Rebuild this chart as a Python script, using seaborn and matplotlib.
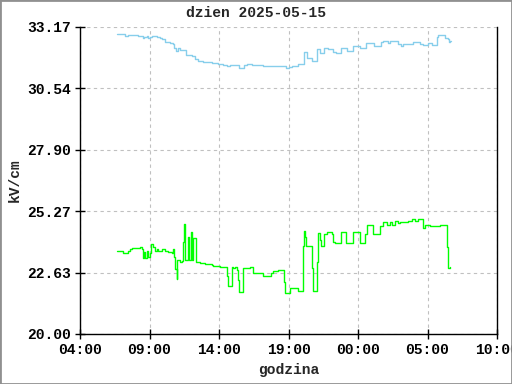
# -*- coding: utf-8 -*-
"""
Dzienny wykres natezenia pola (kV/cm), dwie serie schodkowe.
"""
import pandas as pd
import numpy as np
import matplotlib
matplotlib.use('Agg')
import matplotlib.pyplot as plt
import matplotlib.dates as mdates
from matplotlib.patches import Rectangle
import seaborn as sns

# godziny od polnocy 2025-05-15 (wartosci > 24 to nastepny dzien)
blue_hours = [6.64, 7.24, 7.48, 8.20, 8.51, 8.60, 8.68, 8.80, 8.92, 9.04, 9.16,
              9.52, 9.76, 9.88, 10.12, 10.47, 10.71, 10.79, 10.91, 11.03, 11.19,
              11.55, 11.63, 11.79, 12.03, 12.27, 12.51, 12.87, 13.47, 13.95,
              14.31, 14.55, 14.79, 15.46, 15.70, 15.80, 15.99, 16.35, 17.19,
              18.63, 18.82, 19.06, 19.23, 19.71, 20.12, 20.31, 20.72, 21.08,
              21.27, 21.39, 21.58, 21.87, 22.18, 22.42, 22.78, 23.19, 23.67,
              24.15, 24.58, 25.15, 25.63, 25.82, 26.18, 26.30, 26.66, 26.90,
              27.07, 27.26, 27.98, 28.46, 28.70, 29.06, 29.30, 29.66, 29.78,
              30.26, 30.50, 30.55, 30.62, 30.70]
blue_vals = [32.86, 32.78, 32.81, 32.78, 32.68, 32.76, 32.73, 32.78, 32.68, 32.76, 32.78,
             32.73, 32.68, 32.64, 32.53, 32.50, 32.44, 32.25, 32.15, 32.25, 32.18,
             32.18, 31.95, 31.98, 31.93, 31.80, 31.73, 31.67, 31.61, 31.57,
             31.53, 31.50, 31.54, 31.41, 31.41, 31.54, 31.57, 31.54, 31.50,
             31.50, 31.43, 31.47, 31.50, 31.58, 32.08, 31.83, 31.71, 32.21,
             32.04, 32.07, 32.25, 32.21, 32.08, 32.05, 32.28, 32.14, 32.37,
             32.25, 32.50, 32.37, 32.51, 32.58, 32.50, 32.56, 32.58, 32.44,
             32.35, 32.46, 32.51, 32.46, 32.40, 32.47, 32.40, 32.76, 32.81,
             32.68, 32.64, 32.51, 32.58, 32.58]

green_hours = [6.64, 7.12, 7.36, 7.48, 7.60, 7.72, 8.32, 8.44, 8.51, 8.60, 8.70,
               8.80, 8.92, 9.04, 9.13, 9.28, 9.40, 9.52, 9.64, 9.88, 10.12, 10.35,
               10.59, 10.71, 10.79, 10.86, 10.95, 11.00, 11.19, 11.31, 11.43,
               11.51, 11.58, 11.79, 11.87, 12.01, 12.08, 12.15, 12.35, 12.63,
               12.99, 13.47, 13.59, 14.07, 14.50, 14.55, 14.62, 14.91, 15.03,
               15.15, 15.27, 15.39, 15.46, 15.75, 16.23, 16.47, 17.19, 17.74,
               17.86, 18.27, 18.68, 18.72, 19.11, 19.71, 20.02, 20.07, 20.14,
               20.21, 20.26, 20.67, 20.74, 21.03, 21.10, 21.27, 21.32, 21.56,
               21.80, 22.11, 22.18, 22.35, 22.78, 23.14, 23.67, 24.03, 24.15,
               24.51, 24.63, 25.10, 25.58, 25.78, 26.11, 26.30, 26.42, 26.66,
               26.90, 27.02, 27.62, 27.86, 28.10, 28.34, 28.70, 28.82, 29.18,
               29.90, 30.38, 30.43, 30.50, 30.62]
green_vals = [23.55, 23.49, 23.46, 23.57, 23.63, 23.69, 23.72, 23.63, 23.25, 23.53, 23.25,
              23.57, 23.32, 23.49, 23.85, 23.75, 23.56, 23.63, 23.57, 23.63, 23.57, 23.52,
              23.46, 23.66, 23.32, 22.77, 22.35, 23.17, 23.10, 23.15, 23.95,
              24.72, 23.17, 24.18, 23.17, 24.39, 23.17, 24.10, 23.10, 23.06,
              23.00, 22.96, 22.92, 22.89, 22.86, 22.49, 22.06, 22.86, 22.82,
              22.86, 22.75, 22.32, 21.82, 22.82, 22.89, 22.60, 22.49, 22.63,
              22.70, 22.73, 22.22, 21.74, 21.96, 21.85, 22.46, 23.79, 24.42,
              24.18, 23.79, 22.85, 21.85, 23.07, 24.32, 24.03, 23.79, 24.28,
              24.36, 24.28, 23.96, 23.89, 24.36, 23.89, 24.36, 24.39, 23.92,
              24.28, 24.68, 24.28, 24.63, 24.82, 24.68, 24.82, 24.68, 24.86,
              24.78, 24.79, 24.86, 24.92, 24.86, 24.92, 24.53, 24.68, 24.63,
              24.68, 24.63, 23.75, 22.82, 22.89]

y_ticks = [20.00, 22.63, 25.27, 27.90, 30.54, 33.17]
x_tick_hours = [4, 9, 14, 19, 24, 29, 34]

day0 = pd.Timestamp('2025-05-15')
blue_df = pd.DataFrame({'czas': day0 + pd.to_timedelta(blue_hours, unit='h'),
                        'kv': blue_vals})
green_df = pd.DataFrame({'czas': day0 + pd.to_timedelta(green_hours, unit='h'),
                         'kv': green_vals})

sns.set_style('white')
plt.rcParams['font.family'] = ['Liberation Mono', 'DejaVu Sans Mono']
plt.rcParams['font.weight'] = 'bold'

fig = plt.figure(figsize=(5.12, 3.84), dpi=100)
ax = fig.add_axes([80 / 512, 1 - 334 / 384, 417 / 512, 307 / 384])

sns.lineplot(data=blue_df, x='czas', y='kv', ax=ax, color='#87ceeb',
             drawstyle='steps-post', linewidth=1)
sns.lineplot(data=green_df, x='czas', y='kv', ax=ax, color='#00ff00',
             drawstyle='steps-post', linewidth=1)

ax.set_xlim(day0 + pd.Timedelta(hours=4), day0 + pd.Timedelta(hours=34))
ax.set_xticks([day0 + pd.Timedelta(hours=h) for h in x_tick_hours])
ax.xaxis.set_major_formatter(mdates.DateFormatter('%H:%M'))
ax.set_ylim(20.0, 33.17)
ax.set_yticks(y_ticks)
ax.set_yticklabels(['%.2f' % v for v in y_ticks])

ax.grid(True, color='#c0c0c0', linestyle=(0, (3, 3)), linewidth=0.8)
ax.tick_params(direction='inout', length=7, width=1, colors='black',
               labelsize=10.5, pad=3)
ax.tick_params(axis='both', which='both', left=True, bottom=True)
for side in ['left', 'bottom', 'right']:
    ax.spines[side].set_color('black')
    ax.spines[side].set_linewidth(1)
ax.spines['top'].set_visible(False)

ax.set_xlabel('godzina', fontsize=10.5, fontweight='bold', labelpad=4)
ax.set_ylabel('kV/cm', fontsize=10.5, fontweight='bold', labelpad=4)
fig.text(0.5, 1 - 13 / 384, 'dzien 2025-05-15', ha='center', va='center',
         fontsize=10.5, fontweight='bold')

# szara ramka wokol calego obrazka
fig.patches.append(Rectangle((0, 0), 1, 1, transform=fig.transFigure,
                             fill=False, edgecolor='#909090', linewidth=2))

plt.savefig('out.png', dpi=100)
